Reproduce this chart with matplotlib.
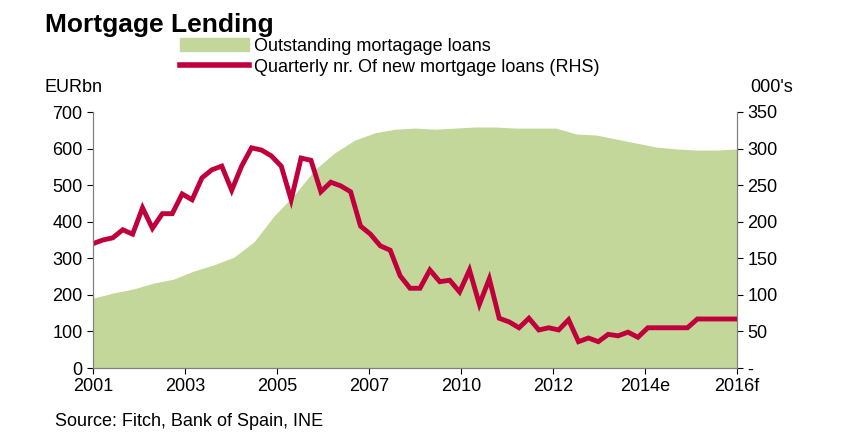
import numpy as np
import matplotlib
matplotlib.use("Agg")
import matplotlib.pyplot as plt
from matplotlib.lines import Line2D
from matplotlib.patches import Patch

plt.rcParams["font.family"] = "Liberation Sans"

tick_labels = ["2001", "2003", "2005", "2007", "2010", "2012", "2014e", "2016f"]
outstanding = [191, 205, 216, 232, 243, 265, 282, 303, 345, 416, 473, 541, 588, 623, 643,
               653, 656, 653, 656, 659, 659, 656, 656, 656, 640, 637, 626, 615, 604, 599,
               596, 596, 599]
new_loans = [170, 175, 178, 189, 183, 219, 191, 211, 211, 238, 230, 260, 271, 276, 243,
             276, 301, 298, 290, 276, 230, 287, 284, 241, 254, 249, 241, 194, 183, 167,
             161, 126, 109, 109, 134, 118, 120, 104, 134, 87, 122, 68, 63, 55, 68, 52,
             55, 52, 66, 36, 41, 36, 46, 44, 49, 42, 55, 55, 55, 55, 55, 67, 67, 67, 67, 67]

green = "#c4d79b"
red = "#c0003c"

fig = plt.figure(figsize=(8.41, 4.40), dpi=100)
ax = fig.add_axes([93/841, 72/440, 644/841, 256/440])
ax2 = ax.twinx()

xg = np.linspace(0, 7, len(outstanding))
xr = np.linspace(0, 7, len(new_loans))
ax.fill_between(xg, outstanding, 0, color=green, lw=0)
ax2.plot(xr, new_loans, color=red, lw=3.5, solid_joinstyle="miter")

ax.set_xlim(0, 7)
ax.set_ylim(0, 700)
ax2.set_ylim(0, 350)
ax.set_xticks(range(8))
ax.set_xticklabels(tick_labels)
ax.set_yticks(range(0, 701, 100))
ax2.set_yticks(range(0, 351, 50))
ax2.set_yticklabels(["-"] + [str(v) for v in range(50, 351, 50)])
for a in (ax, ax2):
    a.tick_params(labelsize=13, length=4, direction="out", colors="#000000")
    for s in a.spines.values():
        s.set_color("#808080")
    a.spines["top"].set_visible(False)
ax.tick_params(axis="x", pad=3)

fig.text(45/841, 1 - 25/440, "Mortgage Lending", fontsize=19, fontweight="bold", va="center")
fig.text(45/841, 1 - 87/440, "EURbn", fontsize=13, va="center")
fig.text(750/841, 1 - 87/440, "000's", fontsize=13, va="center")
fig.text(55/841, 1 - 421/440, "Source: Fitch, Bank of Spain, INE", fontsize=13, va="center")

handles = [Patch(color=green), Line2D([], [], color=red, lw=4)]
fig.legend(handles, ["Outstanding mortagage loans", "Quarterly nr. Of new mortgage loans (RHS)"],
           loc="upper left", bbox_to_anchor=(180/841, 1 - 38/440), frameon=False,
           fontsize=13, handlelength=3.8, handletextpad=0.3, labelspacing=0.2,
           borderaxespad=0, borderpad=0)

fig.savefig("out.png", dpi=100)
